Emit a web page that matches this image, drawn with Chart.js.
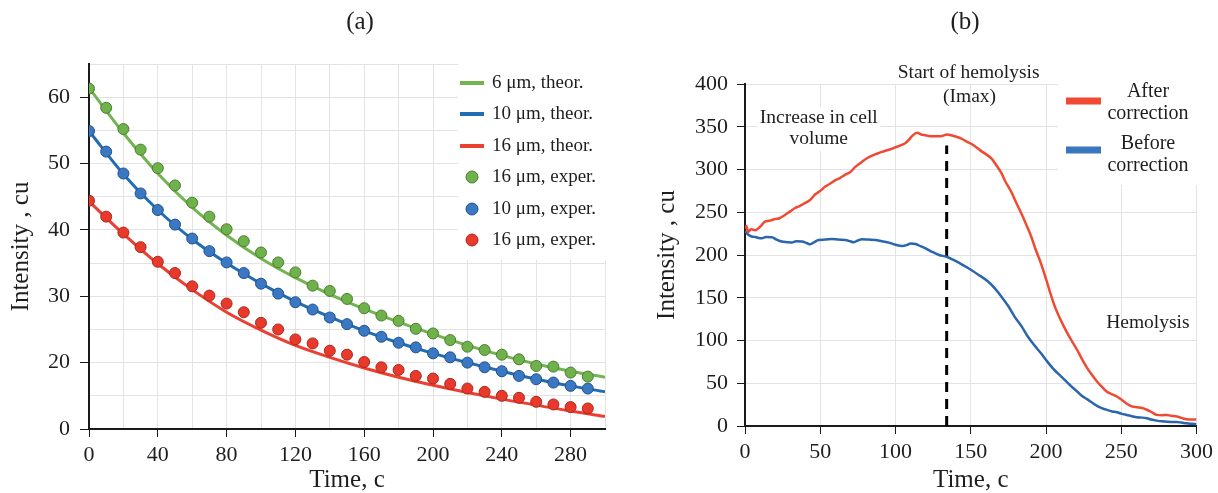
<!DOCTYPE html>
<html>
<head>
<meta charset="utf-8">
<script src="https://cdn.jsdelivr.net/npm/chart.js@4.4.1/dist/chart.umd.min.js"></script>
<style>
  body { margin: 0; background: #fff; }
  #wrap { position: relative; width: 1218px; height: 493px; }
  #chartA { position: absolute; left: 0; top: 0; }
  #chartB { position: absolute; left: 620px; top: 0; }
</style>
</head>
<body>
<div id="wrap">
  <canvas id="chartA" width="620" height="493"></canvas>
  <canvas id="chartB" width="598" height="493"></canvas>
</div>
<script>
// ===============================
// (a) intensity decay, three cell sizes
// ===============================
const expTimes = [0, 10, 20, 30, 40, 50, 60, 70, 80, 90, 100, 110, 120, 130, 140,
  150, 160, 170, 180, 190, 200, 210, 220, 230, 240, 250, 260, 270, 280, 290];
const exp6 = [61.3, 58.4, 55.2, 52.1, 49.3, 46.7, 44.1, 42.0, 40.1, 38.3, 36.6, 35.1, 33.6, 31.6, 30.8,
  29.6, 28.2, 27.1, 26.3, 25.1, 24.4, 23.4, 22.4, 21.9, 21.2, 20.5, 19.5, 19.4, 18.5, 17.9];
const exp10 = [54.9, 51.8, 48.5, 45.5, 43.0, 40.8, 38.7, 36.8, 35.1, 33.5, 31.9, 30.4, 29.1, 28.0, 26.8,
  25.8, 24.8, 23.9, 23.0, 22.3, 21.4, 20.8, 20.0, 19.3, 18.7, 18.0, 17.5, 17.0, 16.5, 16.1];
const exp16 = [44.4, 42.0, 39.6, 37.4, 35.2, 33.5, 31.5, 30.1, 28.9, 27.6, 26.0, 25.0, 23.5, 22.9, 21.8,
  21.2, 20.1, 19.3, 18.9, 18.0, 17.6, 16.8, 16.1, 15.6, 15.0, 14.7, 14.1, 13.7, 13.3, 13.1];

const theorTimes = [0, 20, 40, 60, 80, 100, 120, 140, 160, 180, 200, 220, 240, 260, 280, 300];
const theor6 = [61.4, 54.6, 48.5, 43.4, 39.2, 35.7, 32.8, 30.3, 28.1, 26.1, 24.3, 22.6, 21.1, 19.8, 18.7, 17.8];
const theor10 = [54.9, 48.4, 43.0, 38.6, 35.0, 31.9, 29.2, 26.9, 24.8, 23.0, 21.4, 20.0, 18.7, 17.5, 16.5, 15.6];
const theor16 = [44.3, 39.4, 34.9, 31.0, 27.6, 24.9, 22.6, 20.8, 19.2, 17.8, 16.6, 15.5, 14.5, 13.6, 12.7, 11.9];

const xTicksA = [0, 40, 80, 120, 160, 200, 240, 280];
const yTicksA = [10, 20, 30, 40, 50, 60];   // the lowest line is marked "0"

// ===============================
// (b) intensity during hemolysis, [time, intensity]
// ===============================
const afterCorr = [[0,231],[1,234],[2,227],[4,230],[6.7,229],[10,233],[13.3,239],[16,240],[20,242],
  [23,243],[26.7,247],[30,251],[33.3,255],[36,257],[40,261],[43,264],[46.7,271],[50,275],[53.3,280],
  [57,284],[60,287.5],[63,290],[66.7,294],[70,297],[73.3,303],[77,308],[80,312],[83,315],[86.7,318],
  [90,320],[93.3,322],[97,324],[100,326],[103,328],[106.7,331],[109,335],[111,339],[114.4,343],[117,341],
  [120,340],[123,339],[126.7,339],[130,339],[134.4,341],[137,340],[141,338],[143.8,336],[147,333],
  [150.4,330],[153,327],[157,321.5],[160,318],[163.7,313],[167,305],[170.3,296],[173,286],[176.9,274],
  [180,262],[183.5,249],[187,235],[190.1,222],[193,207],[196.7,190],[200,172],[203.3,153],[206,139],
  [209,127],[212,116],[215,106],[218,97],[221,88],[224,78],[227.3,68],[230,61],[233.9,52],[237,46],
  [240.5,40],[244,37],[247.1,34.5],[250,31],[253.7,26],[257,23],[260.4,22],[264,21],[267,19],
  [270.4,16],[273.6,13],[277,12.5],[280.2,13],[283,12],[286.8,11],[290,9.5],[293.4,7.8],[297,7.5],[300,7.5]];
const beforeCorr = [[0,228],[2,224],[4.4,221.6],[7,221],[9,220],[11.1,219.6],[14,221],[17.8,220.8],
  [21,218],[24.4,215.7],[28,215],[31.1,214.5],[34,216],[37.8,215.7],[41,214],[43.3,212.5],[46,215],
  [48.9,217.6],[53,218],[57.8,218.8],[62,218],[66.7,217.6],[70,216],[72.2,214.9],[75,217],[77.8,218.4],
  [82,218],[86.7,217.6],[91,216],[95.6,214.5],[100,212],[104.4,210.6],[108,212],[110,213.5],[113.3,212.9],
  [117,210],[120,207.8],[124,204],[128.9,200],[133.9,198],[137.8,195],[142,191],[148.2,184.8],[155,177],
  [161.5,169],[166,161],[170.3,151.6],[175,140],[179.1,128],[184,116],[187.9,104.7],[192,95],[196.7,85],
  [201,75],[205.5,65.6],[210,58],[214.1,51],[217,46],[220.7,40.4],[224,35],[227.3,31.4],[231,27],
  [233.9,23.5],[237,21],[240.5,18.8],[244,17],[247.1,16.1],[250,14.5],[253.7,12.9],[257,11.5],
  [260.4,10.2],[264,9.8],[267,9],[270,7.5],[273.6,6.3],[277,5.5],[280.2,5.1],[283,4.8],[286.8,4.7],
  [290,4],[293.4,3.1],[297,2.5],[300,2]];

const imaxTime = 134;           // start of hemolysis
const imaxLine = [0, 328];      // dashed marker, bottom and top

const serif = "'Liberation Serif', 'Times New Roman', serif";
Chart.defaults.font.family = serif;
Chart.defaults.color = '#1e1e1e';

const GREEN = '#72b550', BLUE = '#1f6db3', RED = '#ec3f30';
const GRID = '#e3e3e3', INK = '#1a1a1a';

function toPoints(xs, ys) { return xs.map((x, i) => ({ x: x, y: ys[i] })); }
function pairs(arr) { return arr.map(p => ({ x: p[0], y: p[1] })); }

// panel caption, free text notes and a boxed legend drawn on the canvas
const decor = {
  id: 'decor',
  afterDatasetsDraw(chart, args, opts) {
    const ctx = chart.ctx;
    const sx = chart.scales.x, sy = chart.scales.y;
    ctx.save();
    (opts.notes || []).forEach(n => {
      ctx.font = n.size + 'px ' + serif;
      const px = sx.getPixelForValue(n.x), py = sy.getPixelForValue(n.y);
      if (n.bg) {
        const w = ctx.measureText(n.text).width;
        ctx.fillStyle = '#fff';
        ctx.fillRect(px - w / 2 - 2, py - n.size * 0.6, w + 4, n.size * 1.2);
      }
      ctx.fillStyle = '#1e1e1e';
      ctx.textAlign = 'center';
      ctx.textBaseline = 'middle';
      ctx.fillText(n.text, px, py);
    });
    const lg = opts.legend;
    if (lg) {
      ctx.fillStyle = '#fff';
      ctx.fillRect(lg.box[0], lg.box[1], lg.box[2], lg.box[3]);
      lg.rows.forEach(r => {
        const ds = chart.data.datasets[r.ds];
        if (r.kind === 'line') {
          ctx.strokeStyle = ds.borderColor;
          ctx.lineWidth = 4;
          ctx.beginPath();
          ctx.moveTo(lg.sx, r.y); ctx.lineTo(lg.sx + lg.sw, r.y);
          ctx.stroke();
        } else if (r.kind === 'dot') {
          ctx.fillStyle = ds.backgroundColor;
          ctx.strokeStyle = ds.borderColor;
          ctx.lineWidth = 1;
          ctx.beginPath();
          ctx.arc(lg.sx + lg.sw / 2, r.y, 6, 0, Math.PI * 2);
          ctx.fill(); ctx.stroke();
        } else {
          ctx.fillStyle = r.color || ds.borderColor;
          ctx.fillRect(lg.sx, r.y - 3.5, lg.sw, 7);
        }
        ctx.font = lg.size + 'px ' + serif;
        ctx.fillStyle = '#1e1e1e';
        ctx.textBaseline = 'middle';
        ctx.textAlign = lg.textAlign;
        r.text.forEach((t, i) => ctx.fillText(t, lg.tx, r.ty + i * lg.lead));
      });
    }
    ctx.font = opts.caption.size + 'px ' + serif;
    ctx.fillStyle = '#1e1e1e';
    ctx.textAlign = 'center';
    ctx.textBaseline = 'middle';
    ctx.fillText(opts.caption.text, opts.caption.x, opts.caption.y);
    ctx.restore();
  }
};

function theorSet(label, data, color) {
  return { label: label, data: data, showLine: true, borderColor: color, borderWidth: 3,
    pointRadius: 0, cubicInterpolationMode: 'monotone', order: 2 };
}
function expSet(label, data, fill, edge) {
  return { label: label, data: data, showLine: false, backgroundColor: fill, borderColor: edge,
    borderWidth: 1, pointRadius: 5.5, order: 1 };
}

// ===============================
// Chart (a)
// ===============================
new Chart(document.getElementById('chartA'), {
  type: 'scatter',
  data: {
    datasets: [
      theorSet('6 μm, theor.', toPoints(theorTimes, theor6), GREEN),
      theorSet('10 μm, theor.', toPoints(theorTimes, theor10), BLUE),
      theorSet('16 μm, theor.', toPoints(theorTimes, theor16), RED),
      expSet('16 μm, exper.', toPoints(expTimes, exp6), '#6fb24b', '#4a7d33'),
      expSet('10 μm, exper.', toPoints(expTimes, exp10), '#3a78c3', '#24508a'),
      expSet('16 μm, exper.', toPoints(expTimes, exp16), '#e8392b', '#a52a1f')
    ]
  },
  options: {
    responsive: false,
    animation: false,
    layout: { padding: { top: 64, right: 15, left: 0, bottom: 0 } },
    plugins: {
      legend: { display: false },
      tooltip: { enabled: false },
      decor: {
        caption: { text: '(a)', x: 360, y: 22, size: 25 },
        legend: {
          box: [458, 64, 150, 196], sx: 460, sw: 24, tx: 492, size: 19, lead: 0,
          textAlign: 'left',
          rows: [
            { ds: 0, kind: 'line', y: 83, ty: 83, text: ['6 μm, theor.'] },
            { ds: 1, kind: 'line', y: 114, ty: 114, text: ['10 μm, theor.'] },
            { ds: 2, kind: 'line', y: 146, ty: 146, text: ['16 μm, theor.'] },
            { ds: 3, kind: 'dot', y: 177, ty: 177, text: ['16 μm, exper.'] },
            { ds: 4, kind: 'dot', y: 209, ty: 209, text: ['10 μm, exper.'] },
            { ds: 5, kind: 'dot', y: 240, ty: 240, text: ['16 μm, exper.'] }
          ]
        }
      }
    },
    scales: {
      x: {
        type: 'linear', min: 0, max: 300,
        afterFit: s => { s.height = 64; },
        afterBuildTicks: s => { s.ticks = Array.from({ length: 16 }, (_, i) => ({ value: i * 20 })); },
        ticks: { font: { size: 22 }, padding: 5, maxRotation: 0, autoSkip: false,
          callback: v => xTicksA.includes(v) ? String(v) : '' },
        grid: { color: GRID, tickLength: 8,
          tickColor: c => (c.tick && xTicksA.includes(c.tick.value)) ? INK : 'rgba(0,0,0,0)' },
        border: { color: INK, width: 2 },
        title: { display: true, text: 'Time, c', font: { size: 25, lineHeight: 1 }, padding: { top: 0, bottom: 0 } }
      },
      y: {
        min: 10, max: 65,
        afterFit: s => { s.width = 89; },
        afterBuildTicks: s => { s.ticks = Array.from({ length: 12 }, (_, i) => ({ value: 10 + i * 5 })); },
        ticks: { font: { size: 22 }, padding: 10, autoSkip: false,
          callback: v => yTicksA.includes(v) ? (v === 10 ? '0' : String(v)) : '' },
        grid: { color: GRID, tickLength: 9,
          tickColor: c => (c.tick && yTicksA.includes(c.tick.value)) ? INK : 'rgba(0,0,0,0)' },
        border: { color: INK, width: 2 },
        title: { display: true, text: 'Intensity , cu', font: { size: 25, lineHeight: 1 }, padding: { top: 9 } }
      }
    }
  },
  plugins: [decor]
});

// ===============================
// Chart (b)
// ===============================
new Chart(document.getElementById('chartB'), {
  type: 'scatter',
  data: {
    datasets: [
      { label: 'After correction', data: pairs(afterCorr), showLine: true, borderColor: '#f04a33',
        borderWidth: 2.5, pointRadius: 0, cubicInterpolationMode: 'monotone' },
      { label: 'Before correction', data: pairs(beforeCorr), showLine: true, borderColor: '#2a66ad',
        borderWidth: 2.5, pointRadius: 0, cubicInterpolationMode: 'monotone' },
      { label: 'Imax', data: imaxLine.map(v => ({ x: imaxTime, y: v })), showLine: true,
        borderColor: '#000', borderWidth: 3, borderDash: [10, 7], pointRadius: 0 }
    ]
  },
  options: {
    responsive: false,
    animation: false,
    layout: { padding: { top: 84, right: 17, left: 0, bottom: 0 } },
    plugins: {
      legend: { display: false },
      tooltip: { enabled: false },
      decor: {
        caption: { text: '(b)', x: 345, y: 22, size: 25 },
        notes: [
          { text: 'Start of hemolysis', x: 148.6, y: 413, size: 19.5 },
          { text: '(Imax)', x: 149.2, y: 385, size: 19.5 },
          { text: 'Increase in cell', x: 49, y: 360, size: 19.5, bg: true },
          { text: 'volume', x: 49, y: 335.7, size: 19.5, bg: true },
          { text: 'Hemolysis', x: 267.7, y: 121, size: 19.5 }
        ],
        legend: {
          box: [438, 84, 150, 101], sx: 446, sw: 35, tx: 528, size: 20, lead: 22,
          textAlign: 'center',
          rows: [
            { ds: 0, kind: 'rect', y: 101, ty: 92, text: ['After', 'correction'], color: '#f04a33' },
            { ds: 1, kind: 'rect', y: 150, ty: 144, text: ['Before', 'correction'], color: '#3a76bd' }
          ]
        }
      }
    },
    scales: {
      x: {
        type: 'linear', min: 0, max: 300,
        afterFit: s => { s.height = 67; },
        ticks: { stepSize: 50, font: { size: 22 }, padding: 5, maxRotation: 0 },
        grid: { color: GRID, tickLength: 8, tickColor: INK },
        border: { color: INK, width: 2 },
        title: { display: true, text: 'Time, c', font: { size: 25, lineHeight: 1 }, padding: { top: 0, bottom: 0 } }
      },
      y: {
        min: 0, max: 400,
        afterFit: s => { s.width = 125; },
        ticks: { stepSize: 50, font: { size: 22 }, padding: 9 },
        grid: { color: GRID, tickLength: 8, tickColor: INK },
        border: { color: INK, width: 2 },
        title: { display: true, text: 'Intensity , cu', font: { size: 25, lineHeight: 1 }, padding: { top: 35 } }
      }
    }
  },
  plugins: [decor]
});
</script>
</body>
</html>
